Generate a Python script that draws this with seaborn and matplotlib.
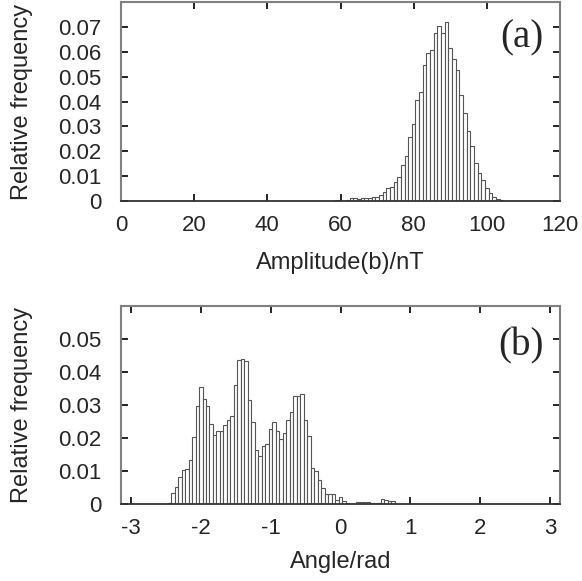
import numpy as np
import pandas as pd
import matplotlib
matplotlib.use("Agg")
import matplotlib.pyplot as plt
import seaborn as sns

# ---- data: panel (a) amplitude histogram (bin centres in nT, width 1) ----
amp_centers = list(range(57, 106))
amp_freq = [0.0, 0.0002, 0.0003, 0.0002, 0.0002, 0.0003, 0.0011, 0.0011, 0.0007,
            0.0011, 0.0011, 0.0011, 0.0018, 0.0018, 0.0024, 0.0035, 0.0051, 0.0055,
            0.0076, 0.0095, 0.0145, 0.0180, 0.0257, 0.0310, 0.0408, 0.0437, 0.0548,
            0.0593, 0.0609, 0.0677, 0.0704, 0.0677, 0.0719, 0.0616, 0.0569, 0.0525,
            0.0428, 0.0352, 0.0282, 0.0221, 0.0151, 0.0114, 0.0084, 0.0051, 0.0033,
            0.0017, 0.0009, 0.0004, 0.0001]

# ---- data: panel (b) angle histogram (bin centres in rad, width 0.05) ----
ang_centers = [round(-2.45 + 0.05 * i, 2) for i in range(65)]
ang_freq = [0.0004, 0.0034, 0.0052, 0.0082, 0.0102, 0.0106, 0.0133, 0.0204, 0.0298,
            0.0354, 0.0319, 0.0296, 0.0243, 0.0208, 0.0220, 0.0220, 0.0239, 0.0254,
            0.0267, 0.0362, 0.0436, 0.0438, 0.0433, 0.0315, 0.0247, 0.0164, 0.0145,
            0.0177, 0.0181, 0.0226, 0.0247, 0.0222, 0.0196, 0.0214, 0.0254, 0.0278,
            0.0328, 0.0328, 0.0334, 0.0256, 0.0207, 0.0110, 0.0101, 0.0073, 0.0048,
            0.0030, 0.0030, 0.0031, 0.0012, 0.0022, 0.0008, 0.0003, 0.0001, 0.0001,
            0.0005, 0.0005, 0.0005, 0.0005, 0.0002, 0.0002, 0.0004, 0.0014, 0.0011,
            0.0009, 0.0009]

amp_xticks = [0, 20, 40, 60, 80, 100, 120]
amp_yticks = [0, 0.01, 0.02, 0.03, 0.04, 0.05, 0.06, 0.07]
amp_yticklabels = ["0", "0.01", "0.02", "0.03", "0.04", "0.05", "0.06", "0.07"]
ang_xticks = [-3, -2, -1, 0, 1, 2, 3]
ang_yticks = [0, 0.01, 0.02, 0.03, 0.04, 0.05]
ang_yticklabels = ["0", "0.01", "0.02", "0.03", "0.04", "0.05"]

sns.set_style("ticks")
plt.rcParams["font.family"] = ["Liberation Sans", "DejaVu Sans"]

W, H = 582, 581
fig = plt.figure(figsize=(W / 100, H / 100), dpi=100)
ax1 = fig.add_axes([121 / W, 1 - 201 / H, 439 / W, 199 / H])
ax2 = fig.add_axes([121 / W, 1 - 504 / H, 439 / W, 198 / H])

edge = "#555555"
FS = 16
LFS = 17

def style(ax, xl, yl, xlabel, xt, yt, ytl, tag, tagy, xly):
    ax.set_xlim(*xl)
    ax.set_ylim(*yl)
    ax.set_xticks(xt)
    ax.set_xticklabels([str(t) for t in xt])
    ax.set_yticks(yt)
    ax.set_yticklabels(ytl)
    ax.tick_params(direction="in", top=True, right=True, length=5, width=1.2,
                   labelsize=FS, color="black")
    ax.tick_params(axis="y", pad=14)
    ax.tick_params(axis="x", pad=10)
    for s in ["top", "left", "right"]:
        ax.spines[s].set_color("#808080")
        ax.spines[s].set_linewidth(1.5)
    ax.spines["bottom"].set_color("#333333")
    ax.spines["bottom"].set_linewidth(1.3)
    ax.set_xlabel(xlabel, fontsize=LFS)
    ax.set_ylabel("Relative frequency", fontsize=LFS)
    ax.yaxis.set_label_coords(-0.20, 0.5)
    ax.xaxis.set_label_coords(0.5, xly)
    ax.text(0.962, tagy, tag, transform=ax.transAxes, ha="right", va="center",
            fontsize=28, family=["Liberation Serif", "DejaVu Serif"])

amp_df = pd.DataFrame({"amp": np.array(amp_centers, dtype=float),
                       "w": np.array(amp_freq, dtype=float)})
sns.histplot(data=amp_df, x="amp", weights="w", binwidth=1.0,
             binrange=(amp_centers[0] - 0.5, amp_centers[-1] + 0.5), ax=ax1,
             color="white", edgecolor=edge, linewidth=0.8, alpha=1)
style(ax1, (0, 120), (0, 0.08), "Amplitude(b)/nT", amp_xticks, amp_yticks,
      amp_yticklabels, "(a)", 0.82, -0.255)

ang_df = pd.DataFrame({"ang": np.array(ang_centers, dtype=float),
                       "w": np.array(ang_freq, dtype=float)})
sns.histplot(data=ang_df, x="ang", weights="w", binwidth=0.05,
             binrange=(ang_centers[0] - 0.025, ang_centers[-1] + 0.025), ax=ax2,
             color="white", edgecolor=edge, linewidth=0.8, alpha=1)
style(ax2, (-np.pi, np.pi), (0, 0.06), "Angle/rad", ang_xticks, ang_yticks,
      ang_yticklabels, "(b)", 0.80, -0.235)

fig.savefig("out.png", dpi=100, facecolor="white")
